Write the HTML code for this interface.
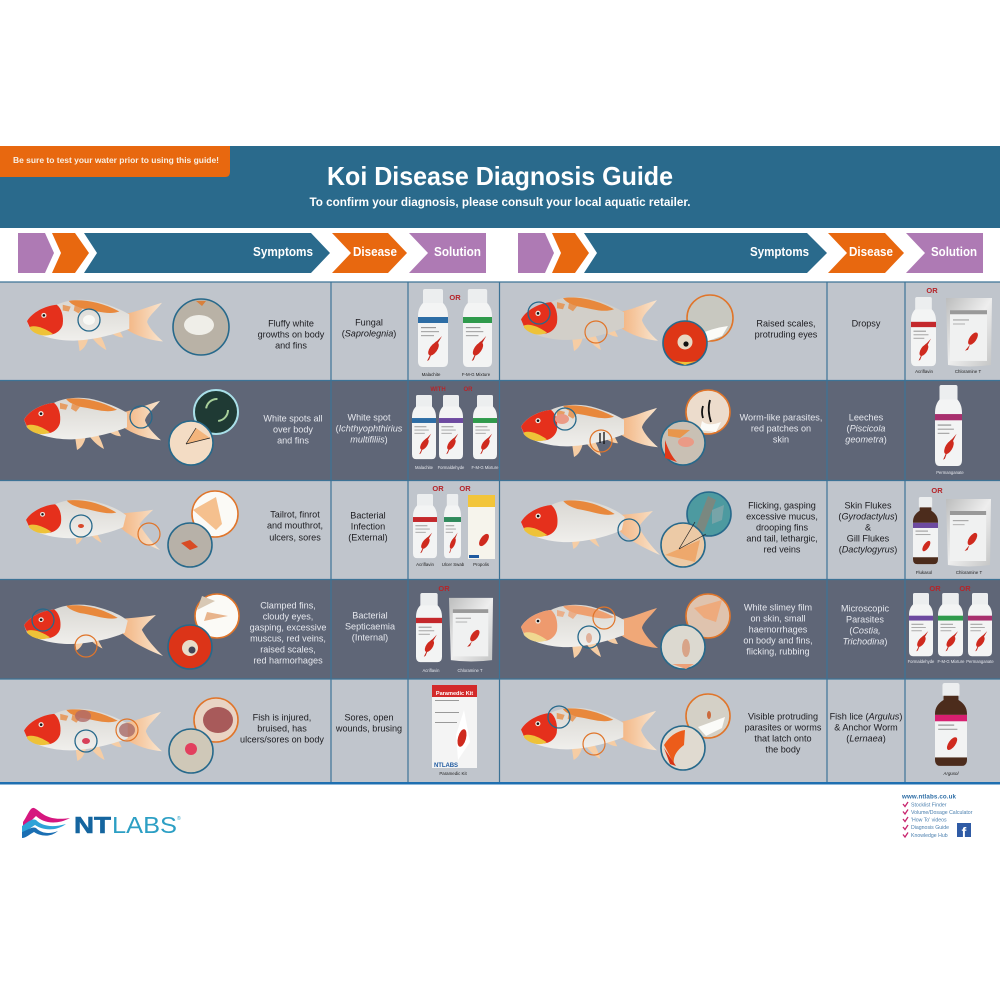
<!DOCTYPE html>
<html lang="en"><head><meta charset="utf-8"><title>Koi Disease Diagnosis Guide</title>
<style>
html,body{margin:0;padding:0;background:#fff;width:1000px;height:1000px;overflow:hidden}
svg{display:block}
text{font-family:"Liberation Sans",Arial,sans-serif}
.b{font-weight:bold;fill:#fff}
.d,.l{font-size:9.1px;text-anchor:middle}
.d{fill:#e6e8ee}.l{fill:#1c1c20}
.i{font-style:italic}
.or{font-size:7.5px;font-weight:bold;fill:#b5252a;text-anchor:middle}
.p{font-size:4.4px;text-anchor:middle;fill:#222}
.pd{font-size:4.2px;text-anchor:middle;fill:#e6e8ee}
.w{font-size:5.2px;fill:#4a7fae}
.t{fill:none;stroke:#27698b;stroke-width:1.3}
.o{fill:none;stroke:#e0752a;stroke-width:1.2}
.T{stroke:#27698b;stroke-width:1.6}
.O{stroke:#e0752a;stroke-width:1.6}
.fr{--h:#e5301c;--y:#eec238;--k:#e8883c;--f:url(#tl);--s:url(#bd)}
.fp{--h:#ee9a6e;--y:#f0d890;--k:#eea070;--f:#f0a878;--s:url(#bd)}
.fs{--h:#e5301c;--y:#eec238;--k:#e8883c;--f:url(#tl);--s:#d2cfc9}
</style></head><body>
<svg xmlns="http://www.w3.org/2000/svg" width="1000" height="1000" viewBox="0 0 1000 1000">
<defs>
<linearGradient id="tl" x1="0" x2="1"><stop offset="0" stop-color="#f3b684"/><stop offset="1" stop-color="#f9e6d0"/></linearGradient>
<linearGradient id="bd" x1="0" x2="0" y1="0" y2="1"><stop offset="0" stop-color="#d9d7d2"/><stop offset="1" stop-color="#f0efec"/></linearGradient>
<linearGradient id="sv" x1="0" x2="1" y1="0" y2="1"><stop offset="0" stop-color="#bcbdbd"/><stop offset=".5" stop-color="#eeeeee"/><stop offset="1" stop-color="#c4c5c5"/></linearGradient>
<symbol id="fish" viewBox="0 0 138 58" preserveAspectRatio="none">
<path d="M101 17C112 15 125 9 136 6C130 14 122 20 121 26C123 32 130 40 137 46C124 45 110 40 101 34Z" fill="var(--f)"/>
<path d="M51 42L53 56C57 54 60 50 62 42Z M64 40C68 46 74 52 80 55C78 48 76 44 74 40Z M82 35C86 39 92 42 97 42C95 38 94 36 92 33Z" fill="#f6cda4"/>
<path d="M0 25C5 16 18 9 30 8C42 2 60 1 75 6C88 10 96 14 103 18L103 33C90 38 70 44 50 45C32 46 12 41 3 33Z" fill="var(--s)"/>
<path d="M42 4C55 2 75 5 93 15C82 19 70 14 56 12C50 10 45 8 42 4Z" fill="var(--k)"/>
<path d="M36 8L44 10L42 15L36 14Z M48 9L56 12L52 17L47 14Z" fill="var(--k)" opacity=".75"/>
<path d="M0 25C5 16 18 9 30 8C35 12 37 20 36 28C35 34 29 39 23 39C14 39 6 34 3 32Z" fill="var(--h)"/>
<path d="M3 31C8 29 16 31 26 38C18 42 8 39 3 33Z" fill="var(--y)"/>
<circle cx="17" cy="19" r="2.6" fill="#f0e8e0"/><circle cx="17" cy="19" r="1.3" fill="#111"/>
</symbol>
<symbol id="droop" viewBox="0 0 138 58" preserveAspectRatio="none">
<path d="M98 18C108 17 120 16 131 14C125 20 119 26 117 30C122 40 130 50 138 58C124 52 108 44 98 34Z" fill="var(--f)"/>
<path d="M50 40L52 52C56 50 58 46 60 40Z M64 38C68 44 74 48 78 50L72 38Z" fill="#f6cda4"/>
<path d="M0 25C5 16 18 9 30 8C42 2 60 1 75 6C88 10 96 14 103 20L100 33C90 38 70 44 50 45C32 46 12 41 3 33Z" fill="var(--s)"/>
<path d="M42 4C55 2 75 5 93 17C82 20 70 14 56 12C50 10 45 8 42 4Z" fill="var(--k)"/>
<path d="M0 25C5 16 18 9 30 8C35 12 37 20 36 28C35 34 29 39 23 39C14 39 6 34 3 32Z" fill="var(--h)"/>
<path d="M3 31C8 29 16 31 26 38C18 42 8 39 3 33Z" fill="var(--y)"/>
<circle cx="17" cy="19" r="2.6" fill="#f0e8e0"/><circle cx="17" cy="19" r="1.3" fill="#111"/>
</symbol>
<symbol id="bot" viewBox="0 0 30 79" preserveAspectRatio="none">
<rect x="5" y="0" width="20" height="16" rx="2" fill="#eceeef"/>
<path d="M5 14H25C28 17 30 21 30 27V72Q30 78 25 78H5Q0 78 0 72V27C0 21 2 17 5 14Z" fill="#f3f4f4"/>
<rect x="0" y="28" width="30" height="6" fill="currentColor"/>
<rect x="3" y="38" width="15" height="1.2" fill="#999"/><rect x="3" y="42" width="18" height="1.2" fill="#aaa"/><rect x="3" y="46" width="13" height="1.2" fill="#aaa"/>
<path d="M24 47L20 54C17 57 14 61 14 64L11 71L9 72L12 66C12 60 15 54 19 52Z" fill="#c42a20"/>
<ellipse cx="15.5" cy="60" rx="3.8" ry="7.5" fill="#cf2a1e" transform="rotate(35 15.5 60)"/>
</symbol>
<symbol id="amb" viewBox="0 0 30 79" preserveAspectRatio="none">
<rect x="7" y="0" width="16" height="13" rx="2" fill="#eceeef"/>
<path d="M8 12H22V16C27 19 30 23 30 29V72Q30 78 25 78H5Q0 78 0 72V29C0 23 3 19 8 16Z" fill="#4c2c1c"/>
<rect x="0" y="30" width="30" height="40" fill="#f2f3f3"/>
<rect x="0" y="30" width="30" height="6" fill="currentColor"/>
<rect x="3" y="39" width="15" height="1.2" fill="#999"/><rect x="3" y="43" width="18" height="1.2" fill="#aaa"/>
<ellipse cx="16" cy="57" rx="3.2" ry="7" fill="#cf2a1e" transform="rotate(35 16 57)"/>
</symbol>
<symbol id="pou" viewBox="0 0 48 70" preserveAspectRatio="none">
<path d="M1 2H47L46 68Q24 71 3 68Z" fill="url(#sv)"/>
<rect x="5" y="14" width="37" height="50" fill="#f0f1f1"/>
<rect x="5" y="14" width="37" height="4" fill="#999"/>
<rect x="8" y="23" width="16" height="1.2" fill="#aaa"/><rect x="8" y="27" width="12" height="1.2" fill="#bbb"/>
<ellipse cx="28" cy="42" rx="3.4" ry="7" fill="#cf2a1e" transform="rotate(35 28 42)"/>
<path d="M25 48L20 54L23 53Z" fill="#c42a20"/>
</symbol>
</defs>

<!-- header -->
<rect x="0" y="146" width="1000" height="82" fill="#2a6a8c"/>
<path d="M0 146H230V172Q230 177 225 177H0Z" fill="#e8680f"/>
<text x="13" y="163" class="b" font-size="8" textLength="206" lengthAdjust="spacingAndGlyphs" style="fill:#f8efe4">Be sure to test your water prior to using this guide!</text>
<text x="500" y="185" class="b" font-size="26" text-anchor="middle" textLength="346" lengthAdjust="spacingAndGlyphs">Koi Disease Diagnosis Guide</text>
<text x="500" y="206" class="b" font-size="12" text-anchor="middle" textLength="381" lengthAdjust="spacingAndGlyphs">To confirm your diagnosis, please consult your local aquatic retailer.</text>

<!-- arrows -->
<g fill="#ae7ab4"><path d="M18 233H45L54 253L45 273H18Z"/><path d="M409 233H486V273H409L428 253Z"/><path d="M518 233H545L554 253L545 273H518Z"/><path d="M906 233H983V273H906L925 253Z"/></g>
<g fill="#e8680f"><path d="M52 233H75L89 253L75 273H52L61 253Z"/><path d="M332 233H388L407 253L388 273H332L351 253Z"/><path d="M552 233H575L589 253L575 273H552L561 253Z"/><path d="M828 233H885L904 253L885 273H828L847 253Z"/></g>
<g fill="#2a6a8c"><path d="M84 233H311L330 253L311 273H84L97 253Z"/><path d="M584 233H807L827 253L807 273H584L597 253Z"/></g>
<g class="b" font-size="12.500">
<text x="253" y="256" textLength="60" lengthAdjust="spacingAndGlyphs">Symptoms</text><text x="353" y="256" textLength="44" lengthAdjust="spacingAndGlyphs">Disease</text><text x="434" y="256" textLength="47" lengthAdjust="spacingAndGlyphs">Solution</text>
<text x="750" y="256" textLength="59" lengthAdjust="spacingAndGlyphs">Symptoms</text><text x="849" y="256" textLength="44" lengthAdjust="spacingAndGlyphs">Disease</text><text x="931" y="256" textLength="46" lengthAdjust="spacingAndGlyphs">Solution</text>
</g>

<!-- rows -->
<rect x="0" y="282" width="1000" height="98" fill="#c0c5cc"/>
<rect x="0" y="380" width="1000" height="100" fill="#5f6677"/>
<rect x="0" y="480" width="1000" height="99" fill="#c0c5cc"/>
<rect x="0" y="579" width="1000" height="100" fill="#5f6677"/>
<rect x="0" y="679" width="1000" height="103" fill="#c0c5cc"/>
<g stroke="#3d7396" stroke-width="1.200"><path d="M0 282H1000M0 380.500H1000M0 480.500H1000M0 579.500H1000M0 679H1000"/><path d="M331 282V782M408 282V782M499.500 282V782M827 282V782M905 282V782"/></g>
<rect x="0" y="782" width="1000" height="2.500" fill="#1f6fb0"/>

<!-- fish -->
<g class="fr">
<use href="#fish" x="27" y="297" width="137" height="56"/>
<use href="#fish" x="24" y="395" width="138" height="57"/>
<use href="#droop" x="26" y="497" width="134" height="53"/>
<use href="#droop" x="24" y="602" width="139" height="54"/>
<use href="#fish" x="24" y="706" width="139" height="57"/>
<use href="#fish" x="521" y="402" width="138" height="57"/>
<use href="#droop" x="521" y="497" width="139" height="58"/>
<use href="#fish" x="521" y="705" width="137" height="57"/>
</g>
<g class="fs"><use href="#fish" x="521" y="294" width="138" height="59"/></g>
<g class="fp"><use href="#fish" x="521" y="602" width="138" height="58"/></g>

<!-- marks on fish -->
<ellipse cx="89" cy="320" rx="6" ry="5" fill="#f8f8f4"/>
<ellipse cx="81" cy="526" rx="3" ry="2" fill="#d8482a"/>
<ellipse cx="86" cy="741" rx="4" ry="3" fill="#d8405a"/>
<ellipse cx="83" cy="716" rx="8" ry="6" fill="#b06a68" opacity=".8"/>
<ellipse cx="127" cy="730" rx="8" ry="7" fill="#a86a68" opacity=".8"/>
<path d="M600 433v10M604 432v12" stroke="#111" stroke-width="1.300" fill="none"/>
<ellipse cx="562" cy="419" rx="7" ry="5" fill="#eb9a86"/>
<ellipse cx="589" cy="638" rx="3" ry="5" fill="#e0b09a"/>

<!-- small circles -->
<circle class="t" cx="89" cy="320" r="11"/>
<circle class="t" cx="141" cy="417" r="11"/>
<circle class="t" cx="81" cy="526" r="11"/><circle class="o" cx="149" cy="534" r="11"/>
<circle class="t" cx="43" cy="620" r="11"/><circle class="o" cx="86" cy="646" r="11"/>
<circle class="o" cx="127" cy="730" r="11"/><circle class="t" cx="86" cy="741" r="11"/>
<circle class="t" cx="539" cy="313" r="11"/><circle class="o" cx="596" cy="332" r="11"/>
<circle class="t" cx="565" cy="419" r="11"/><circle class="o" cx="601" cy="441" r="11"/>
<circle class="t" cx="629" cy="530" r="11"/>
<circle class="o" cx="604" cy="618" r="11"/><circle class="t" cx="589" cy="637" r="11"/>
<circle class="t" cx="559" cy="717" r="11"/><circle class="o" cx="594" cy="744" r="11"/>

<!-- zoom circles -->
<circle cx="201" cy="327" r="28" fill="#b9b2a6" class="T"/><ellipse cx="199" cy="325" rx="15" ry="10" fill="#efeee8"/><path d="M196 301l6 5 4-5z" fill="#d8803c"/>

<circle cx="216" cy="412" r="22" fill="#1f3a34" stroke="#a9dfe8" stroke-width="2"/><circle cx="217" cy="410" r="11" fill="none" stroke="#a8cf9a" stroke-width="2" stroke-dasharray="16 20"/>
<circle cx="191" cy="443" r="22" fill="#f3dcc4" class="T"/><path d="M186 444L210 438L196 428Z" fill="#f3b57c"/><path d="M186 444L196 428M186 444L210 438" stroke="#222" stroke-width=".7" fill="none"/>

<circle cx="215" cy="514" r="23" fill="#fbfaf6" class="O"/><path d="M193 510L216 497L222 524L216 530Z" fill="#f5c08e"/>
<circle cx="190" cy="545" r="22" fill="#b7b1a8" class="T"/><path d="M181 543L190 540L198 547L190 550Z" fill="#d84b24"/>

<circle cx="217" cy="616" r="22" fill="#fbfaf6" class="O"/><path d="M197 610L215 601L202 596Z" fill="#d8c8b4"/><path d="M207 612L228 616L204 621Z" fill="#e8b48c"/>
<circle cx="190" cy="647" r="22" fill="#dc3418" class="T"/><circle cx="190" cy="648" r="8" fill="#e8dcc8"/><circle cx="192" cy="650" r="3.500" fill="#445"/>

<circle cx="216" cy="720" r="22" fill="#e9d4c4" class="O"/><ellipse cx="218" cy="720" rx="15" ry="13" fill="#a85a5a"/>
<circle cx="191" cy="751" r="22" fill="#cfc8b8" class="T"/><circle cx="191" cy="749" r="6" fill="#e2405e"/>

<circle cx="710" cy="318" r="23" fill="#c8c8c0" class="O"/><path d="M695 336Q712 328 728 326L722 336L708 341Z" fill="#fbfbf8"/>
<circle cx="685" cy="343" r="22" fill="#de3616" class="T"/><circle cx="685" cy="342" r="7.500" fill="#e8d8c4"/><circle cx="686" cy="344" r="2.600" fill="#111"/><path d="M667 358Q680 364 697 361L685 365Z" fill="#eec238"/>

<circle cx="708" cy="412" r="22" fill="#ecdccc" class="O"/><path d="M702 421Q708 427 721 422L716 432L700 430Z" fill="#fbfbf8"/><path d="M703 406q-2 6 0 12M710 400q-3 10 1 22" stroke="#111" stroke-width="1.800" fill="none"/>
<circle cx="683" cy="443" r="22" fill="#c9c0b4" class="T"/><ellipse cx="686" cy="442" rx="8" ry="5" fill="#ea9a86"/><path d="M665 440Q670 455 677 462L665 458Z" fill="#e03818"/><path d="M668 429L690 430L680 438L668 436Z" fill="#e8964c"/>

<circle cx="709" cy="514" r="22" fill="#4d9aa0" class="T"/><path d="M695 530L708 496L716 500L704 532Z" fill="#7a8880"/><path d="M712 510L724 505L722 520L712 524Z" fill="#77a4a8"/>
<circle cx="683" cy="545" r="22" fill="#eccaa6" class="T"/><path d="M665 555L700 540L695 562Z" fill="#eea86c"/><path d="M679 549L695 522M679 549L706 534" stroke="#222" stroke-width=".7" fill="none"/>

<circle cx="708" cy="616" r="22" fill="#dfc3ae" class="O"/><path d="M694 608L722 600L716 622L704 618Z" fill="#eeaa7c"/>
<circle cx="683" cy="647" r="22" fill="#dcd9d0" class="T"/><ellipse cx="686" cy="648" rx="4" ry="9" fill="#d8a488"/><path d="M672 664L694 664L686 669Z" fill="#eca078"/>

<circle cx="708" cy="716" r="22" fill="#d4d0c6" class="O"/><path d="M698 727L725 717L722 728L706 736Z" fill="#fbfbf8"/><ellipse cx="709" cy="715" rx="2" ry="4" fill="#cc6a3c"/>
<circle cx="683" cy="748" r="22" fill="#e0dad0" class="T"/><path d="M664 745Q672 732 685 730L684 745Q672 754 674 764Z" fill="#ec5c1a"/><path d="M664 748L670 764L676 766Z" fill="#d83416"/>

<!-- symptom and disease text -->
<g class="l">
<text x="291" y="326.500">Fluffy white</text><text x="291" y="337.500">growths on body</text><text x="291" y="348.500">and fins</text>
<text x="369" y="325.500">Fungal</text><text x="369" y="336.500">(<tspan class="i">Saprolegnia</tspan>)</text>
<text x="295" y="517.500">Tailrot, finrot</text><text x="295" y="528.500">and mouthrot,</text><text x="295" y="540.500">ulcers, sores</text>
<text x="368" y="518.500">Bacterial</text><text x="368" y="529.500">Infection</text><text x="368" y="540.500">(External)</text>
<text x="282" y="720.500">Fish is injured,</text><text x="282" y="731.500">bruised, has</text><text x="282" y="742.500">ulcers/sores on body</text>
<text x="369" y="720.500">Sores, open</text><text x="369" y="731.500">wounds, brusing</text>
<text x="786" y="326.500">Raised scales,</text><text x="786" y="337.500">protruding eyes</text>
<text x="866" y="326.500">Dropsy</text>
<text x="782" y="508.500">Flicking, gasping</text><text x="782" y="519.500">excessive mucus,</text><text x="782" y="530.500">drooping fins</text><text x="782" y="541.500">and tail, lethargic,</text><text x="782" y="552.500">red veins</text>
<text x="868" y="508.500">Skin Flukes</text><text x="868" y="519.500">(<tspan class="i">Gyrodactylus</tspan>)</text><text x="868" y="530.500">&amp;</text><text x="868" y="541.500">Gill Flukes</text><text x="868" y="552.500">(<tspan class="i">Dactylogyrus</tspan>)</text>
<text x="783" y="719.500">Visible protruding</text><text x="783" y="730.500">parasites or worms</text><text x="783" y="741.500">that latch onto</text><text x="783" y="752.500">the body</text>
<text x="866" y="719.500">Fish lice (<tspan class="i">Argulus</tspan>)</text><text x="866" y="730.500">&amp; Anchor Worm</text><text x="866" y="741.500">(<tspan class="i">Lernaea</tspan>)</text>
</g>
<g class="d">
<text x="293" y="421.500">White spots all</text><text x="293" y="432.500">over body</text><text x="293" y="443.500">and fins</text>
<text x="369" y="420.500">White spot</text><text x="369" y="431.500">(<tspan class="i">Ichthyophthirius</tspan></text><text x="369" y="442.500"><tspan class="i">multifiliis</tspan>)</text>
<text x="288" y="608.500">Clamped fins,</text><text x="288" y="619.500">cloudy eyes,</text><text x="288" y="630.500">gasping, excessive</text><text x="288" y="641.500">muscus, red veins,</text><text x="288" y="652.500">raised scales,</text><text x="288" y="663.500">red harmorhages</text>
<text x="370" y="618.500">Bacterial</text><text x="370" y="629.500">Septicaemia</text><text x="370" y="640.500">(Internal)</text>
<text x="781" y="420.500">Worm-like parasites,</text><text x="781" y="431.500">red patches on</text><text x="781" y="442.500">skin</text>
<text x="866" y="420.500">Leeches</text><text x="866" y="431.500">(<tspan class="i">Piscicola</tspan></text><text x="866" y="442.500"><tspan class="i">geometra</tspan>)</text>
<text x="778" y="610.500">White slimey film</text><text x="778" y="621.500">on skin, small</text><text x="778" y="632.500">haemorrhages</text><text x="778" y="643.500">on body and fins,</text><text x="778" y="654.500">flicking, rubbing</text>
<text x="865" y="611.500">Microscopic</text><text x="865" y="622.500">Parasites</text><text x="865" y="633.500">(<tspan class="i">Costia,</tspan></text><text x="865" y="644.500"><tspan class="i">Trichodina</tspan>)</text>
</g>

<!-- products -->
<use href="#bot" x="418" y="289" width="30" height="79" color="#2d6da5"/>
<use href="#bot" x="463" y="289" width="29" height="79" color="#2f9a4c"/>
<text x="455" y="300" class="or">OR</text>
<text x="431" y="376" class="p">Malachite</text><text x="476" y="376" class="p">F-M-G Mixture</text>

<use href="#bot" x="412" y="395" width="24" height="65" color="#2d6da5"/>
<use href="#bot" x="439" y="395" width="24" height="65" color="#6d4aa0"/>
<use href="#bot" x="473" y="395" width="24" height="65" color="#2f9a4c"/>
<text x="438" y="391" class="or" style="font-size:6px">WITH</text><text x="468" y="391" class="or" style="font-size:6px">OR</text>
<text x="424" y="469" class="pd">Malachite</text><text x="451" y="469" class="pd">Formaldehyde</text><text x="485" y="469" class="pd">F-M-G Mixture</text>

<use href="#bot" x="413" y="494" width="24" height="65" color="#c4282c"/>
<use href="#bot" x="444" y="494" width="17" height="65" color="#2f8a5c"/>
<rect x="468" y="495" width="27" height="64" fill="#f6f4ec"/><rect x="468" y="495" width="27" height="12" fill="#f2c53a"/><ellipse cx="484" cy="540" rx="3.500" ry="7" fill="#cf2a1e" transform="rotate(35 484 540)"/><rect x="469" y="555" width="10" height="3" fill="#1f5aa0"/>
<text x="438" y="491" class="or">OR</text><text x="465" y="491" class="or">OR</text>
<text x="425" y="566" class="p">Acriflavin</text><text x="453" y="566" class="p">Ulcer Swab</text><text x="481" y="566" class="p">Propolis</text>

<use href="#bot" x="416" y="593" width="26" height="70" color="#c4282c"/>
<use href="#pou" x="448" y="596" width="46" height="66"/>
<text x="444" y="591" class="or">OR</text>
<text x="431" y="672" class="pd">Acriflavin</text><text x="470" y="672" class="pd">Chloramine T</text>

<rect x="432" y="685" width="45" height="83" fill="#f4f4f4"/><rect x="432" y="685" width="45" height="12" fill="#d32a2a"/>
<text x="454.500" y="695" font-size="5.600" font-weight="bold" fill="#fff" text-anchor="middle">Paramedic Kit</text>
<path d="M464 710L470 742L458 760L456 735Z" fill="#fff"/><ellipse cx="462" cy="738" rx="4" ry="9" fill="#cf2a1e" transform="rotate(15 462 738)"/>
<rect x="435" y="700" width="24" height="1" fill="#999"/><rect x="435" y="712" width="24" height="1" fill="#999"/><rect x="435" y="722" width="22" height="1" fill="#999"/>
<text x="434" y="767" font-size="6" font-weight="bold" fill="#1f5aa0" textLength="24">NTLABS</text>
<text x="453" y="775" class="p">Paramedic Kit</text>

<use href="#bot" x="911" y="297" width="25" height="70" color="#c4282c"/>
<use href="#pou" x="945" y="296" width="48" height="71"/>
<text x="932" y="293" class="or">OR</text>
<text x="924" y="373" class="p">Acriflavin</text><text x="968" y="373" class="p">Chloramine T</text>

<use href="#bot" x="935" y="385" width="27" height="82" color="#a8306e"/>
<text x="950" y="474" class="pd">Permanganate</text>

<use href="#amb" x="913" y="497" width="25" height="68" color="#6d4aa0"/>
<use href="#pou" x="945" y="497" width="47" height="70"/>
<text x="937" y="493" class="or">OR</text>
<text x="924" y="574" class="p">Flukasol</text><text x="969" y="574" class="p">Chloramine T</text>

<use href="#bot" x="909" y="593" width="24" height="64" color="#6d4aa0"/>
<use href="#bot" x="938" y="593" width="25" height="64" color="#2f9a4c"/>
<use href="#bot" x="968" y="593" width="24" height="64" color="#a8306e"/>
<text x="935" y="591" class="or">OR</text><text x="965" y="591" class="or">OR</text>
<text x="921" y="663" class="pd">Formaldehyde</text><text x="951" y="663" class="pd">F-M-G Mixture</text><text x="980" y="663" class="pd">Permanganate</text>

<use href="#amb" x="935" y="683" width="32" height="84" color="#d81f70"/>
<text x="951" y="775" class="p i">Argusol</text>

<!-- logo -->
<path d="M23 822C28 815 30 807 34 808C40 810 45 822 70 818C55 826 42 822 36 816C32 820 28 824 23 827Z" fill="#d6177f"/>
<path d="M22 826C28 822 32 818 36 820C42 826 52 828 66 824C55 832 42 830 35 825C30 828 26 832 22 832Z" fill="#2ea3d8"/>
<path d="M22 832C28 830 32 826 36 828C42 834 50 834 58 831C50 838 40 836 34 832C30 834 26 838 22 838Z" fill="#1b6fb3"/>
<text x="74" y="833" font-size="23" font-weight="bold" fill="#15659f" stroke="#15659f" stroke-width=".6" textLength="37" lengthAdjust="spacingAndGlyphs">NT</text>
<text x="112" y="833" font-size="23" fill="#2c9fc4" textLength="65" lengthAdjust="spacingAndGlyphs">LABS</text>
<text x="177" y="820" font-size="5" fill="#2c9fc4">®</text>

<!-- links -->
<text x="902" y="798.500" font-size="6.200" font-weight="bold" fill="#2d6da5" textLength="54">www.ntlabs.co.uk</text>
<g class="w">
<text x="911" y="806.500">Stocklist Finder</text><text x="911" y="814">Volume/Dosage Calculator</text><text x="911" y="821.500">'How To' videos</text><text x="911" y="829">Diagnosis Guide</text><text x="911" y="837">Knowledge Hub</text>
</g>
<g fill="none" stroke="#c8246e" stroke-width="1.300"><path d="M903 804L905 806.500L908 802"/><path d="M903 811.500L905 814L908 809.500"/><path d="M903 819L905 821.500L908 817"/><path d="M903 827L905 829.500L908 825"/><path d="M903 834.500L905 837L908 832.500"/></g>
<rect x="957" y="823" width="14" height="14" fill="#2f5ba5"/>
<text x="964" y="837" font-size="14" font-weight="bold" fill="#fff" text-anchor="middle">f</text>
</svg>
</body></html>
